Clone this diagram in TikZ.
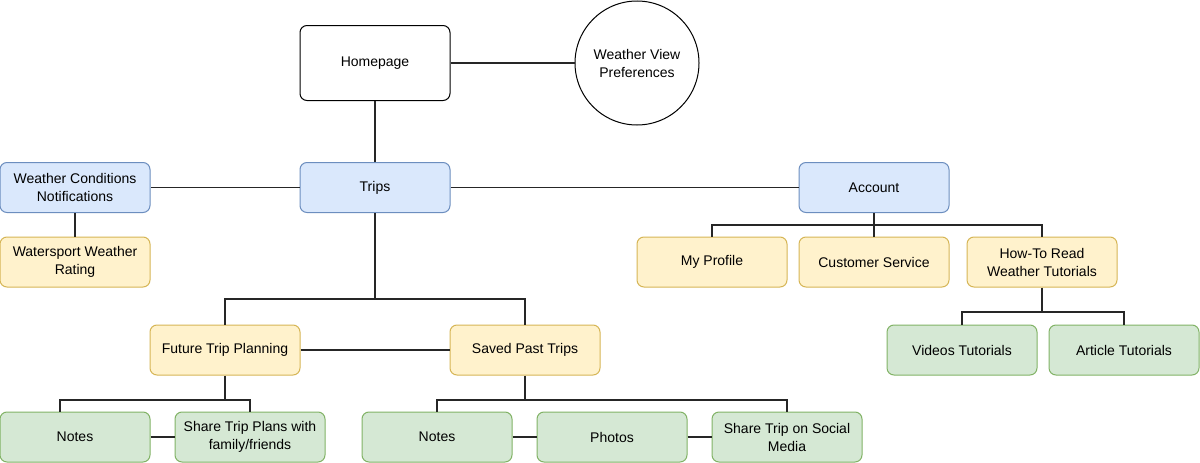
\documentclass[tikz,border=0pt]{standalone}
\usepackage{fontspec}
\setmainfont{Liberation Sans}
\begin{document}
\begin{tikzpicture}[x=1pt,y=-1pt,
  every node/.style={font=\fontsize{14}{18}\selectfont, align=center},
  box/.style={draw, rounded corners=7pt, line width=1pt, minimum width=150pt, minimum height=50pt, inner sep=0pt},
  bluebox/.style={box, draw=strokeblue, fill=fillblue},
  yelbox/.style={box, draw=strokeyel, fill=fillyel},
  grnbox/.style={box, draw=strokegrn, fill=fillgrn},
  conn/.style={draw=black!85, line width=1.1pt}
]
\definecolor{fillblue}{HTML}{DAE8FC}
\definecolor{strokeblue}{HTML}{6C8EBF}
\definecolor{fillyel}{HTML}{FFF2CC}
\definecolor{strokeyel}{HTML}{D6B656}
\definecolor{fillgrn}{HTML}{D5E8D4}
\definecolor{strokegrn}{HTML}{82B366}
\useasboundingbox (0,0) rectangle (1200,463);
\fill[white] (0,0) rectangle (1200,463);

% nodes
\node[box, draw=black, fill=white, minimum height=75pt] (home) at (375,63) {Homepage};
\node[circle, draw=black, line width=1pt, minimum size=124pt, inner sep=0pt] (wvp) at (637,63) {Weather View\\Preferences};
\node[bluebox] (trips) at (375,187.5) {Trips};
\node[bluebox] (wcn) at (75,187.5) {Weather Conditions\\Notifications};
\node[yelbox] (wwr) at (75,262) {Watersport Weather\\Rating};
\node[bluebox] (acct) at (874,187.5) {Account};
\node[yelbox] (prof) at (712,262) {My Profile};
\node[yelbox] (cust) at (874,262) {Customer Service};
\node[yelbox] (howto) at (1042,262) {How-To Read\\Weather Tutorials};
\node[grnbox] (vid) at (962,350) {Videos Tutorials};
\node[grnbox] (art) at (1124,350) {Article Tutorials};
\node[yelbox] (future) at (225,350) {Future Trip Planning};
\node[yelbox] (saved) at (525,350) {Saved Past Trips};
\node[grnbox] (notesA) at (75,437) {Notes};
\node[grnbox] (shareA) at (250,437) {Share Trip Plans with\\family/friends};
\node[grnbox] (notesB) at (437,437) {Notes};
\node[grnbox] (photos) at (612,437) {Photos};
\node[grnbox] (shareB) at (787,437) {Share Trip on Social\\Media};

% connectors
\draw[conn] (home.east) -- (wvp.west);
\draw[conn] (home.south) -- (trips.north);
\draw[conn] (trips.west) -- (wcn.east);
\draw[conn] (trips.east) -- (acct.west);
\draw[conn] (wcn.south) -- (wwr.north);

\draw[conn] (trips.south) -- (375,299) -| (future.north);
\draw[conn] (375,299) -| (saved.north);
\draw[conn] (future.east) -- (saved.west);

\draw[conn] (future.south) -- (225,400) -| ([xshift=-15pt]notesA.north);
\draw[conn] (225,400) -| (shareA.north);
\draw[conn] (notesA.east) -- (shareA.west);

\draw[conn] (saved.south) -- (525,400) -| (notesB.north);
\draw[conn] (525,400) -| (shareB.north);
\draw[conn] (notesB.east) -- (photos.west);
\draw[conn] (photos.east) -- (shareB.west);

\draw[conn] (acct.south) -- (874,225) -| (prof.north);
\draw[conn] (874,225) -| (howto.north);
\draw[conn] (874,225) -- (cust.north);

\draw[conn] (howto.south) -- (1042,312) -| (vid.north);
\draw[conn] (1042,312) -| (art.north);
\end{tikzpicture}
\end{document}
